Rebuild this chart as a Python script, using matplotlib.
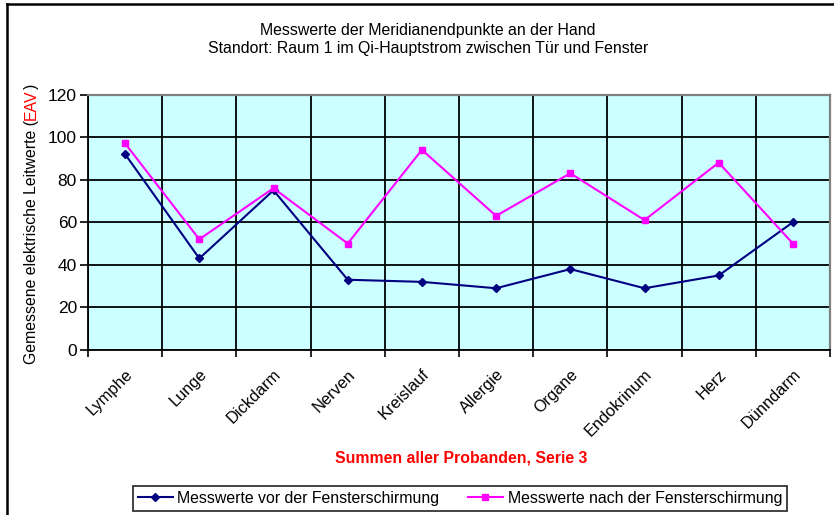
import matplotlib
matplotlib.use('Agg')
import matplotlib.pyplot as plt
import matplotlib.transforms as mtransforms
from matplotlib.lines import Line2D
import numpy as np

plt.rcParams.update({'font.family': 'Liberation Sans', 'font.size': 11.4})

kategorien = ['Lymphe', 'Lunge', 'Dickdarm', 'Nerven', 'Kreislauf', 'Allergie',
              'Organe', 'Endokrinum', 'Herz', 'Dünndarm']
vor = [92, 43, 75, 33, 32, 29, 38, 29, 35, 60]
nach = [97, 52, 76, 50, 94, 63, 83, 61, 88, 50]
yticks = [0, 20, 40, 60, 80, 100, 120]

W, H = 834, 515
fig = plt.figure(figsize=(W/100, H/100), dpi=100)
ax = fig.add_axes([88/W, 1-350/H, 742/W, 255.5/H])
ax.set_facecolor('#CCFFFF')

x = np.arange(len(kategorien))
ax.plot(x, vor, color='#000080', lw=1.5, marker='D', ms=4.5,
        label='Messwerte vor der Fensterschirmung', zorder=3)
ax.plot(x, nach, color='#FF00FF', lw=1.5, marker='s', ms=4.5,
        label='Messwerte nach der Fensterschirmung', zorder=3)

ax.set_xlim(-0.5, len(kategorien)-0.5)
ax.set_ylim(0, 120)
ax.set_yticks(yticks)
ax.set_xticks(np.arange(-0.5, len(kategorien)))
ax.set_xticklabels([])
ax.set_xticks(x, minor=True)
ax.set_xticklabels(kategorien, minor=True, rotation=45, ha='right', va='top',
                   rotation_mode='anchor', fontsize=11.8)
verschub = mtransforms.ScaledTranslation(-11/100, 2/100, fig.dpi_scale_trans)
for lab in ax.get_xticklabels(minor=True):
    lab.set_transform(lab.get_transform() + verschub)
ax.tick_params(axis='x', which='minor', length=0, pad=12)
ax.tick_params(axis='x', which='major', length=5, width=1.2, direction='out')
ax.tick_params(axis='y', length=6, width=1.2, direction='out', pad=2,
               labelsize=12.5)
ax.grid(True, which='major', color='black', lw=1.3)
ax.set_axisbelow(True)

for s in ['left', 'bottom']:
    ax.spines[s].set_color('black')
    ax.spines[s].set_linewidth(1.3)
for s in ['top', 'right']:
    ax.spines[s].set_color('#808080')
    ax.spines[s].set_linewidth(1.6)

# Titel
fig.text(428/W, 1-30/H, 'Messwerte der Meridianendpunkte an der Hand',
         ha='center', va='center')
fig.text(428/W, 1-49/H, 'Standort: Raum 1 im Qi-Hauptstrom zwischen Tür und Fenster',
         ha='center', va='center')

fig.text(461/W, 1-458/H, 'Summen aller Probanden, Serie 3', color='red',
         fontweight='bold', ha='center', va='center')

# Y-Achsentitel mit rotem EAV
r = fig.canvas.get_renderer()
teile = [('Gemessene elektrische Leitwerte (', 'black'), ('EAV', 'red'), (')', 'black')]
objs = [fig.text(0, 0, t, color=c, rotation=90, rotation_mode='anchor',
                 ha='left', va='baseline') for t, c in teile]
laengen = [o.get_window_extent(r).height for o in objs]
y0 = (H - 224) - sum(laengen)/2
for o, l in zip(objs, laengen):
    o.set_position((36/W, y0/H))
    y0 += l

leg = fig.legend(loc='center', bbox_to_anchor=(460/W, 1-498.5/H), ncol=2,
                 frameon=True, fancybox=False, edgecolor='black',
                 handlelength=2.2, handletextpad=0.3, columnspacing=1.8,
                 borderpad=0.3)
leg.get_frame().set_linewidth(1.3)

# Rahmen links und oben
fig.add_artist(Line2D([7/W, 7/W], [0, 1-4/H], color='black', lw=1.8))
fig.add_artist(Line2D([7/W, 1], [1-4/H, 1-4/H], color='black', lw=1.8))

fig.savefig('out.png', dpi=100)
